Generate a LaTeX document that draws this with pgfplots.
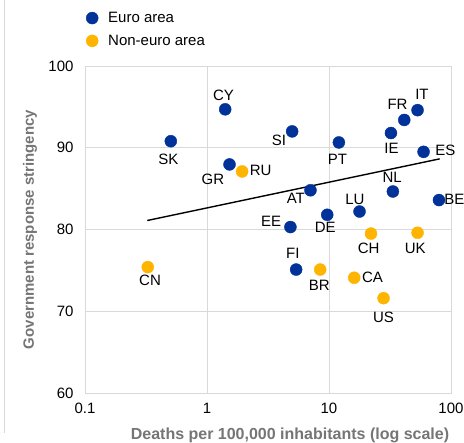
\documentclass[border=0pt]{standalone}
\usepackage{pgfplots}
\pgfplotsset{compat=1.18}
\usepackage{pgfplotstable}
\usepackage{fontspec}
\setmainfont{Liberation Sans}
\definecolor{euroblue}{HTML}{003299}
\definecolor{noneuro}{HTML}{FFB400}
\definecolor{gridgray}{HTML}{D9D9D9}
\definecolor{labgray}{HTML}{757575}
\newcommand{\fs}{\fontsize{15}{18}\selectfont}

\pgfplotstableread{
x y label dx dy
1.41 94.7 CY -1.7 14.3
0.505 90.8 SK -2.4 -17.7
1.53 87.96 GR -16.6 -14.7
4.99 92.0 SI -13.3 -8.7
12.05 90.65 PT -1.4 -17
32.2 91.8 IE 0.6 -15
41.4 93.4 FR -6.7 16
53.2 94.6 IT 4.4 16
59.6 89.5 ES 21.7 1.3
33.4 84.65 NL -0.7 14.6
79.7 83.6 BE 15.3 1
7.05 84.8 AT -14.6 -8.3
17.8 82.2 LU -4.6 11.7
9.67 81.8 DE -2 -12.6
4.83 80.3 EE -19.3 6
5.38 75.1 FI -3.3 16.6
}\euro

\pgfplotstableread{
x y label dx dy
1.94 87.1 RU 18.5 1
22.1 79.5 CH -2.4 -14.4
53.2 79.6 UK -2.3 -15.4
0.327 75.4 CN 2.3 -13.3
8.47 75.1 BR -1 -16
16.1 74.1 CA 18.3 0
28.0 71.6 US 0 -18.7
}\noneuro

\pgfplotsset{
  lbl/.style={
    nodes near coords,
    point meta=explicit symbolic,
    visualization depends on={\thisrow{dx}\as\mydx},
    visualization depends on={\thisrow{dy}\as\mydy},
    every node near coord/.style={font=\fs, text=black, anchor=center, xshift=\mydx pt, yshift=\mydy pt},
  }
}

\begin{document}
\begin{tikzpicture}
\path[use as bounding box] (0pt,0pt) rectangle (464pt,-443pt);
\draw[gridgray, line width=0.8pt] (4.5pt,0pt) -- (4.5pt,-433pt);
\begin{axis}[
  scale only axis, width=366pt, height=327pt,
  at={(85pt,-393pt)}, anchor=south west,
  xmode=log, log basis x=10,
  xmin=0.1, xmax=100, ymin=60, ymax=100,
  xtick={0.1,1,10,100}, xticklabels={0.1,1,10,100},
  ytick={60,70,80,90,100},
  grid=major, major grid style={draw=gridgray, line width=0.8pt},
  axis line style={draw=gridgray, line width=0.8pt},
  major tick length=0pt,
  /pgf/number format/assume math mode=true,
  tick label style={font=\fs, text=black},
  yticklabel style={xshift=-8pt},
  xticklabel style={yshift=-6.6pt},
  xlabel={Deaths per 100,000 inhabitants (log scale)},
  ylabel={Government response stringency},
  xlabel style={font=\fontsize{16}{19}\selectfont\bfseries, text=labgray, at={(axis description cs:0.5,0)}, anchor=center, yshift=-42pt, xshift=22pt},
  ylabel style={font=\fontsize{15}{18}\selectfont\bfseries, text=labgray, at={(axis description cs:0,0.5)}, anchor=center, yshift=55pt},
  clip=false,
  legend style={draw=none, fill=none, font=\fs, at={(axis description cs:0,1)}, anchor=south west, xshift=-5pt, yshift=15pt, row sep=7pt},
  legend cell align=left,
  legend image code/.code={\draw[#1] plot coordinates {(9pt,0pt)}; \path[draw=none, fill=none] (0pt,-6pt) rectangle (23pt,6pt);},
]
\addplot[black, line width=1.4pt, forget plot] coordinates {(0.324,81.1) (80.7,88.64)};
\addplot[only marks, mark=*, mark size=6pt, mark options={draw=euroblue, fill=euroblue}, lbl] table[x=x, y=y, meta=label] {\euro};
\addlegendentry{Euro area}
\addplot[only marks, mark=*, mark size=6pt, mark options={draw=noneuro, fill=noneuro}, lbl] table[x=x, y=y, meta=label] {\noneuro};
\addlegendentry{Non-euro area}
\end{axis}
\end{tikzpicture}
\end{document}
